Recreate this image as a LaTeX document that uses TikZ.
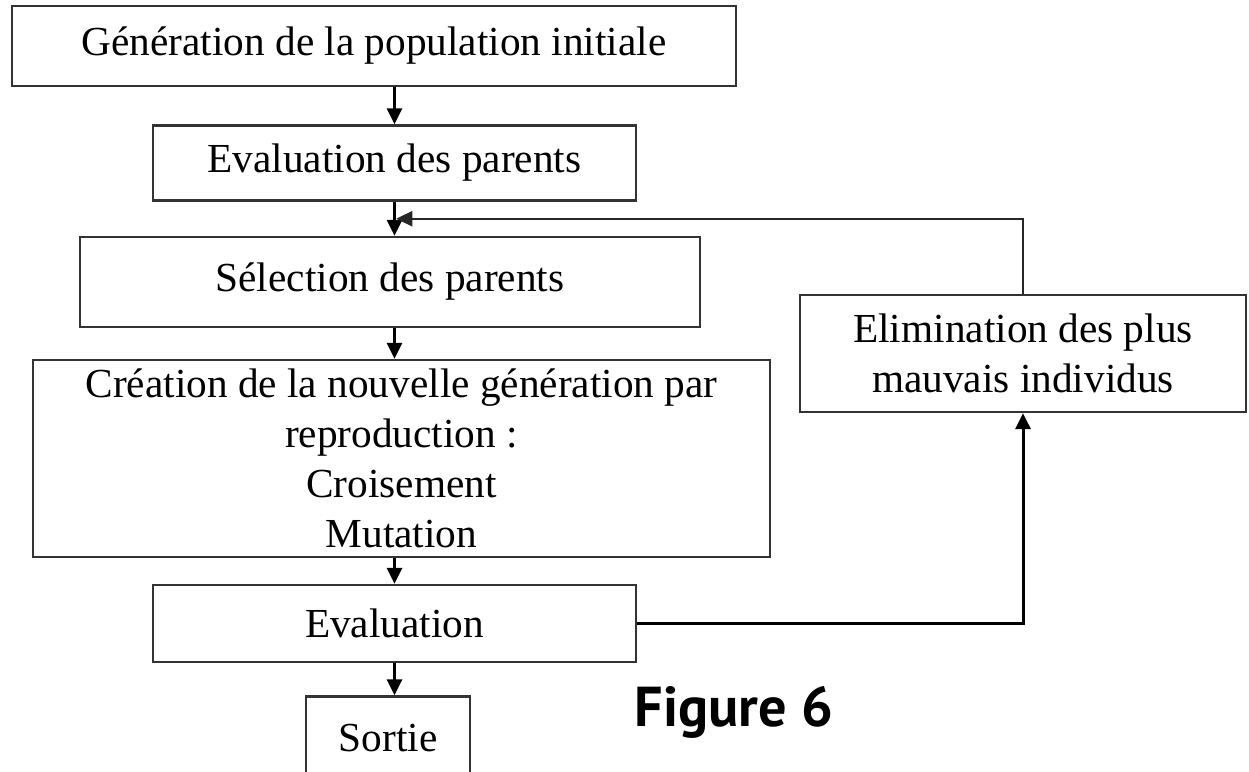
\documentclass[tikz,border=0pt]{standalone}
\usepackage{fontspec}
\setmainfont{Liberation Serif}
\newfontfamily\figfont{PT Sans}
\usetikzlibrary{arrows.meta,positioning,calc}

\begin{document}
\begin{tikzpicture}[
etape/.style={
    draw=black!80,
    line width=1.3pt,
    rectangle,
    align=center,
    inner sep=2pt,
    font=\fontsize{23.5}{28.5}\selectfont
},
fleche/.style={line width=1.7pt, -{Triangle[length=0.32cm,width=0.3cm]}},
lien/.style={draw=black!85, line width=1.4pt}
]
\useasboundingbox (0,0) rectangle (24.98,-15.42);
\clip (0,0) rectangle (24.98,-15.42);

\node[etape, minimum width=14.48cm, minimum height=1.60cm] (gen) at (7.48,-0.92)
    {Génération de la population initiale};

\node[etape, minimum width=9.66cm, minimum height=1.50cm] (evalp) at (7.89,-3.26)
    {Evaluation des parents};

\node[etape, minimum width=12.4cm, minimum height=1.80cm] (sel) at (7.8,-5.64)
    {Sélection des parents};

\node[etape, minimum width=14.74cm, minimum height=3.94cm] (crea) at (8.03,-9.17) {
Création de la nouvelle génération par\\
reproduction :\\
Croisement\\
Mutation
};

\node[etape, minimum width=9.66cm, minimum height=1.54cm] (evalu) at (7.89,-12.47)
    {Evaluation};

\node[etape, minimum width=3.28cm, minimum height=1.66cm] (sortie) at (7.76,-14.76)
    {Sortie};

\node[etape, minimum width=8.92cm, minimum height=2.34cm] (elim) at (20.46,-7.07) {
Elimination des plus\\
mauvais individus
};

\node[font=\figfont\bfseries\fontsize{32}{36}\selectfont] (fig) at (14.68,-14.24) {Figure 6};

% Generation -- Evaluation des parents
\draw[fleche] (evalp.north |- gen.south) -- (evalp.north);

% Evaluation des parents -- Selection
\draw[fleche] (evalp.south) -- (evalp.south |- sel.north);
\coordinate (retour) at ($(evalp.south)!0.5!(evalp.south |- sel.north)$);

% Selection -- Creation -- Evaluation
\draw[fleche] (evalp.south |- sel.south) -- (evalp.south |- crea.north);
\draw[fleche] (evalp.south |- crea.south) -- (evalu.north);

% Evaluation -- Sortie
\draw[fleche] (evalu.south) -- (evalu.south |- sortie.north);

% Evaluation -- Elimination, puis retour vers la selection
\draw[fleche] (evalu.east) -| (elim.south);
\draw[lien, -{Triangle[length=0.32cm,width=0.3cm]}, shorten >=1pt] (elim.north) |- (retour);

\end{tikzpicture}
\end{document}
